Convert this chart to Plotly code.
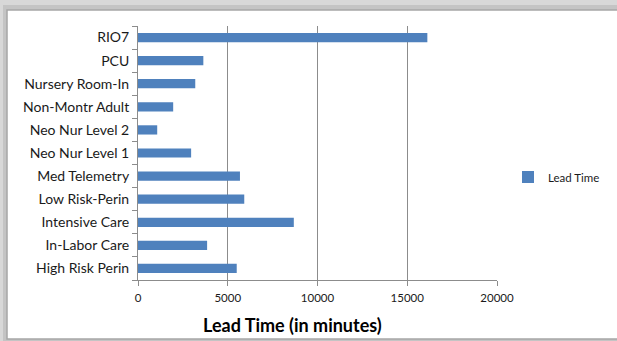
import plotly.graph_objects as go

# Units (bottom to top) and their lead times in minutes
units = [
    "High Risk Perin", "In-Labor Care", "Intensive Care", "Low Risk-Perin",
    "Med Telemetry", "Neo Nur Level 1", "Neo Nur Level 2", "Non-Montr Adult",
    "Nursery Room-In", "PCU", "RIO7",
]
lead_time = [5500, 3850, 8680, 5920, 5680, 2960, 1070, 1960, 3190, 3640, 16120]

x_ticks = [0, 5000, 10000, 15000, 20000]
x_title = "Lead Time (in minutes)"

W, H = 617, 341
ML, MR, MT, MB = 138, 120, 26, 61
pw = W - ML - MR
ph = H - MT - MB


def px(x):
    return (x - ML) / pw


def py(y):
    return (H - MB - y) / ph


font_family = "Lato, 'Open Sans', sans-serif"
bar_color = "#4f81bd"

fig = go.Figure(
    go.Bar(
        x=lead_time,
        y=units,
        orientation="h",
        name="Lead Time",
        marker=dict(color=bar_color, line=dict(width=0)),
        width=0.4,
    )
)

shapes = [
    # drop shadow on the left / top of the chart frame
    dict(type="rect", xref="paper", yref="paper", x0=px(0), x1=px(W), y0=py(H), y1=py(0),
         fillcolor="#d8d8d8", line=dict(width=0), layer="below"),
    dict(type="rect", xref="paper", yref="paper", x0=px(3), x1=px(W), y0=py(H), y1=py(5),
         fillcolor="#c4c4c4", line=dict(width=0), layer="below"),
    # chart frame
    dict(type="rect", xref="paper", yref="paper", x0=px(7), x1=px(W + 5), y0=py(339), y1=py(10),
         fillcolor="white", line=dict(color="#a6a6a6", width=1.5), layer="below"),
]

fig.update_layout(
    width=W,
    height=H,
    margin=dict(l=ML, r=MR, t=MT, b=MB, autoexpand=False),
    paper_bgcolor="white",
    plot_bgcolor="rgba(0,0,0,0)",
    font=dict(family=font_family, color="#1a1a1a"),
    showlegend=True,
    legend=dict(
        x=px(508), y=py(177), xanchor="left", yanchor="middle",
        font=dict(size=11.5, family=font_family, color="#1a1a1a"),
        bgcolor="rgba(0,0,0,0)", itemwidth=30,
    ),
    shapes=shapes,
    annotations=[
        dict(text="<b>" + x_title + "</b>", xref="paper", yref="paper",
             x=px(292), y=py(325), xanchor="center", yanchor="middle",
             showarrow=False,
             font=dict(size=18, family=font_family, color="#000000")),
    ],
    xaxis=dict(
        range=[0, 20000],
        tickvals=x_ticks,
        ticktext=[str(v) for v in x_ticks],
        showgrid=True,
        gridcolor="#8c8c8c",
        gridwidth=1,
        zeroline=False,
        showline=True,
        linecolor="#8c8c8c",
        ticks="outside",
        ticklen=5,
        tickcolor="#8c8c8c",
        tickfont=dict(size=11.5, family=font_family, color="#1a1a1a"),
        ticklabelstandoff=2,
    ),
    yaxis=dict(
        categoryorder="array",
        categoryarray=units,
        showgrid=False,
        zeroline=False,
        showline=True,
        linecolor="#8c8c8c",
        ticks="outside",
        tickson="boundaries",
        ticklen=5,
        tickcolor="#8c8c8c",
        tickfont=dict(size=14, family=font_family, color="#1a1a1a"),
        ticklabelstandoff=5,
    ),
    bargap=0.6,
)

fig.write_html("out.html")
